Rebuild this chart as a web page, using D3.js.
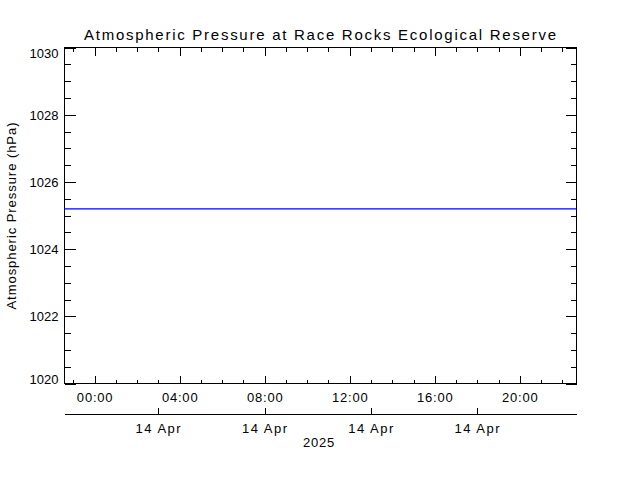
<!DOCTYPE html>
<html>
<head>
<meta charset="utf-8">
<script src="https://cdn.jsdelivr.net/npm/d3@7"></script>
<style>
  html, body { margin: 0; padding: 0; background: #fff; }
  svg { display: block; }
  text { font-family: "Liberation Sans", Arial, sans-serif; fill: #000; }
</style>
</head>
<body>
<svg id="chart" width="640" height="480"></svg>
<script>
// ---- data ----
const titleText = "Atmospheric Pressure at Race Rocks Ecological Reserve";
const yAxisTitle = "Atmospheric Pressure (hPa)";
const yearLabel = "2025";
const timeDomain = ["2025-04-13T22:35:00Z", "2025-04-14T22:40:00Z"];
const obsTimes = [
  "2025-04-13T22:35:00Z", "2025-04-14T00:00:00Z", "2025-04-14T02:00:00Z",
  "2025-04-14T04:00:00Z", "2025-04-14T06:00:00Z", "2025-04-14T08:00:00Z",
  "2025-04-14T10:00:00Z", "2025-04-14T12:00:00Z", "2025-04-14T14:00:00Z",
  "2025-04-14T16:00:00Z", "2025-04-14T18:00:00Z", "2025-04-14T20:00:00Z",
  "2025-04-14T22:00:00Z", "2025-04-14T22:40:00Z"
];
const pressure = [1025.2, 1025.2, 1025.2, 1025.2, 1025.2, 1025.2, 1025.2,
                  1025.2, 1025.2, 1025.2, 1025.2, 1025.2, 1025.2, 1025.2];
const yDomain = [1020, 1030];
const yMajorTicks = [1020, 1022, 1024, 1026, 1028, 1030];
const timeMajorTicks = ["2025-04-14T00:00:00Z", "2025-04-14T04:00:00Z", "2025-04-14T08:00:00Z",
                        "2025-04-14T12:00:00Z", "2025-04-14T16:00:00Z", "2025-04-14T20:00:00Z"];
const timeTickLabels = ["00:00", "04:00", "08:00", "12:00", "16:00", "20:00"];
const dateTicks = ["2025-04-14T03:00:00Z", "2025-04-14T08:00:00Z",
                   "2025-04-14T13:00:00Z", "2025-04-14T18:00:00Z"];
const dateTickLabels = ["14 Apr", "14 Apr", "14 Apr", "14 Apr"];

// ---- layout ----
const L = 64.5, R = 576.5, T = 47.5, B = 383.5;
const svg = d3.select("#chart");

const x = d3.scaleUtc().domain(timeDomain.map(d => new Date(d))).range([L, R]);
const y = d3.scaleLinear().domain(yDomain).range([B, T]);

const yMinor = d3.range(yDomain[0], yDomain[1] + 0.001, 0.5).filter(v => !yMajorTicks.includes(v));
const xMinor = d3.utcHour.range(new Date(timeDomain[0]), new Date(timeDomain[1]))
  .filter(d => d.getUTCHours() % 4 !== 0);
const xMajor = timeMajorTicks.map(d => new Date(d));

function clean(g) {
  g.select(".domain").remove();
  g.selectAll("line").attr("stroke", "#000").attr("shape-rendering", "crispEdges");
}

// frame
svg.append("rect").attr("x", L).attr("y", T).attr("width", R - L).attr("height", B - T)
  .attr("fill", "none").attr("stroke", "#000").attr("shape-rendering", "crispEdges");

// y ticks (inward) left
svg.append("g").attr("transform", `translate(${L},0)`)
  .call(d3.axisRight(y).tickValues(yMajorTicks).tickSize(11).tickFormat("")).call(clean);
svg.append("g").attr("transform", `translate(${L},0)`)
  .call(d3.axisRight(y).tickValues(yMinor).tickSize(6).tickFormat("")).call(clean);
// y ticks right (inward)
svg.append("g").attr("transform", `translate(${R},0)`)
  .call(d3.axisLeft(y).tickValues(yMajorTicks).tickSize(11).tickFormat("")).call(clean);
svg.append("g").attr("transform", `translate(${R},0)`)
  .call(d3.axisLeft(y).tickValues(yMinor).tickSize(6).tickFormat("")).call(clean);
// y labels
const yl = svg.append("g").attr("transform", `translate(${L},0)`)
  .call(d3.axisLeft(y).tickValues(yMajorTicks).tickSize(0).tickPadding(6).tickFormat(d3.format("d")));
yl.select(".domain").remove();
yl.selectAll("text").attr("font-size", 13).attr("font-family", "Liberation Sans, Arial, sans-serif")
  .attr("dy", "0.35em")
  .attr("y", d => { const p = y(d); return Math.min(Math.max(p, T + 5), B - 5) - p; });

// x ticks bottom (inward)
svg.append("g").attr("transform", `translate(0,${B})`)
  .call(d3.axisTop(x).tickValues(xMajor).tickSize(8).tickFormat("")).call(clean);
svg.append("g").attr("transform", `translate(0,${B})`)
  .call(d3.axisTop(x).tickValues(xMinor).tickSize(4).tickFormat("")).call(clean);
// x ticks top (inward)
svg.append("g").attr("transform", `translate(0,${T})`)
  .call(d3.axisBottom(x).tickValues(xMajor).tickSize(8).tickFormat("")).call(clean);
svg.append("g").attr("transform", `translate(0,${T})`)
  .call(d3.axisBottom(x).tickValues(xMinor).tickSize(4).tickFormat("")).call(clean);
// x labels
const xl = svg.append("g").attr("transform", `translate(0,${B})`)
  .call(d3.axisBottom(x).tickValues(xMajor).tickSize(0).tickPadding(9)
    .tickFormat((d, i) => timeTickLabels[i]));
xl.select(".domain").remove();
xl.selectAll("text").attr("font-size", 13).attr("letter-spacing", "0.8px")
  .attr("font-family", "Liberation Sans, Arial, sans-serif");

// secondary date axis
const DY = 414.5;
const dg = svg.append("g").attr("transform", `translate(0,${DY})`)
  .call(d3.axisTop(x).tickValues(dateTicks.map(d => new Date(d))).tickSize(7).tickFormat(""));
dg.select(".domain").remove();
dg.selectAll("line").attr("stroke", "#000").attr("shape-rendering", "crispEdges");
svg.append("line").attr("x1", L).attr("x2", R).attr("y1", DY).attr("y2", DY)
  .attr("stroke", "#000").attr("shape-rendering", "crispEdges");
const dl = svg.append("g").attr("transform", `translate(0,${DY})`)
  .call(d3.axisBottom(x).tickValues(dateTicks.map(d => new Date(d))).tickSize(0).tickPadding(9)
    .tickFormat((d, i) => dateTickLabels[i]));
dl.select(".domain").remove();
dl.selectAll("text").attr("font-size", 13).attr("letter-spacing", "1.5px")
  .attr("font-family", "Liberation Sans, Arial, sans-serif");

svg.append("text").attr("x", 319).attr("y", 447).attr("text-anchor", "middle")
  .attr("font-size", 13).attr("letter-spacing", "0.8px").text(yearLabel);

// data line
svg.append("path")
  .datum(obsTimes.map((t, i) => ({ t: new Date(t), v: pressure[i] })))
  .attr("fill", "none").attr("stroke", "rgb(0,0,255)").attr("stroke-width", 1.3)
  .attr("d", d3.line().x(d => x(d.t)).y(d => y(d.v)));

// title
svg.append("text").attr("x", 84).attr("y", 40).attr("font-size", 15)
  .attr("textLength", 472).attr("lengthAdjust", "spacing").text(titleText);

// y axis title
svg.append("text").attr("transform", "translate(15.5,216) rotate(-90)")
  .attr("text-anchor", "middle").attr("font-size", 13)
  .attr("textLength", 187).attr("lengthAdjust", "spacing").text(yAxisTitle);
</script>
</body>
</html>
